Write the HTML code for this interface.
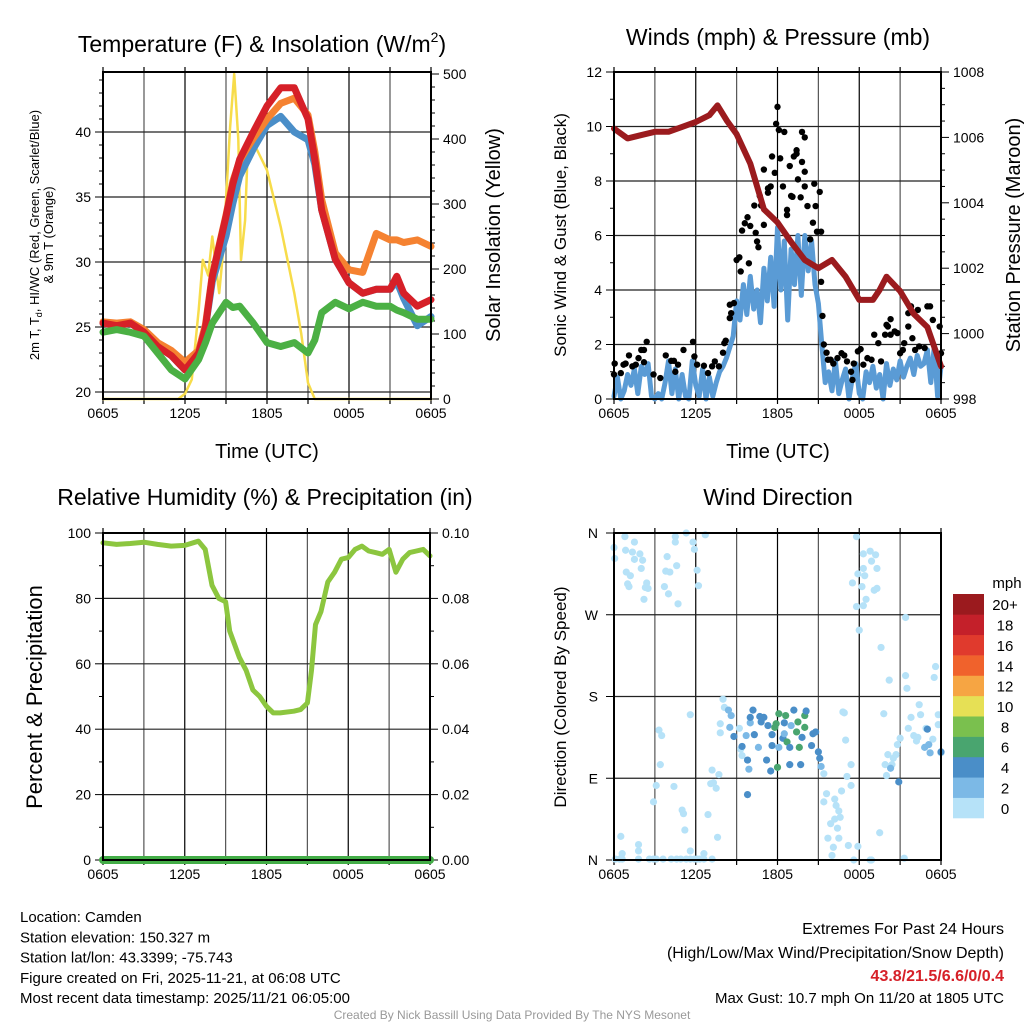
<!DOCTYPE html>
<html><head><meta charset="utf-8"><style>
body{margin:0;background:#fff;}
svg{display:block;font-family:"Liberation Sans",sans-serif;}
</style></head><body>
<svg id="c" width="1024" height="1024" viewBox="0 0 1024 1024"></svg>
<script>
// ---------- data ----------
const xTickLabels=["0605","1205","1805","0005","0605"];
const tempHours=[0,1,2,3,4,5,6,7,7.5,8,9,9.5,10,11,12,13,14,15,15.5,16,17,18,19,20,21,21.5,22,23,24];
const tempRed=[25.3,25.1,25.3,24.6,23.5,22.8,21.7,23,25,28.9,33.5,36,37.9,40,42,43.4,43.4,41,37.9,34,30.2,28.4,27.6,27.9,27.9,28.9,27.6,26.6,27.1];
const tempOrange=[25.4,25.3,25.4,24.8,23.8,23.2,22.3,23.2,25.2,29,33.6,36.2,37.8,39.5,41,42.2,42.6,41.3,38.5,34.8,30.7,29.4,29.2,32.2,31.7,31.7,31.5,31.7,31.2];
const tempBlue=[25.3,25.1,25.3,24.6,23.5,22.8,21.7,23,25,28.5,32,34.5,36.6,38.7,40.5,41.2,40,39.4,37.5,34,30.2,28.4,27.6,27.9,27.9,28.5,27.2,25.1,25.8];
const dewGreen=[24.6,24.8,24.6,24.3,23,21.7,21,22.5,23.8,25.3,26.9,26.5,26.6,25.3,23.8,23.5,23.8,23,24,26.1,26.9,26.4,26.9,26.6,26.6,26.3,26.1,25.6,25.6];
const solarHours=[0,5.5,6,6.5,7,7.3,7.7,8,8.5,8.8,9,9.3,9.6,9.9,10.1,10.4,10.6,11,12,13,14,14.5,15,15.5,24];
const solarVals=[0,0,8,30,137,214,190,250,163,230,306,418,500,400,214,275,390,395,352,265,163,101,25,0,0];

const pressHours=[0,1,2,3,4,5,6,7,7.6,8.3,9,10,11,12,13,14,15,16,17,18,19,19.5,20,21,22,23,24];
const pressVals=[1006.27,1005.97,1006.07,1006.17,1006.17,1006.32,1006.47,1006.68,1006.98,1006.5,1006.1,1005.2,1003.8,1003.4,1002.8,1002.25,1002,1002.25,1001.74,1001.03,1001.03,1001.34,1001.74,1001.3,1000.6,1000.2,999];
const windVals=[0.1,0.8,0,0.3, 0.9,0.5,1.1,0.2, 1.2,0.9,1.3,0.1, 0,0.2,0,0.6, 1.4,0.2,1.1,0, 0.9,0.1,0,1.4, 0.5,0.1,1.1,0, 0.8,0.1,0.6,1.0, 1.2,1.5,1.9,2.3, 3.6,2.9,4.2,3.1, 4.5,3.3,4.0,2.8, 4.8,3.6,5.2,3.4, 6.3,4.0,5.8,2.9, 5.5,4.2,6.0,3.8, 6.0,4.7,5.8,4.2, 3.5,2.0,0.6,1.0, 0.3,1.4,0.2,0.7, 1.1,0,0.8,1.3, 0.2,0,1.0,0.6, 1.2,0.4,0.9,0, 1.3,0.5,1.1,0.7, 1.4,0.8,1.2,1.5, 0.9,1.6,1.2,1.3, 1.8,0.6,1.9,0.1, 1.2];
const gustHours=[0,0.05,0.5,0.7,0.85,1.1,1.35,1.6,1.8,2,2.2,2.4,2.2,2.9,3.4,3.8,4.2,4.4,4.5,4.7,5.1,5.8,5.9,6.1,6.6,6.9,7.2,7.4,7.7,8,8.1,8.2,8.5,8.6,8.5,8.8,9,9.2,9.3,9.4,9.6,9.8,9.9,10,10.3,10.4,10.5,10.6,10.7,10.8,11,11,11.3,11.3,11.5,11.6,11.8,11.9,12,12.1,12.2,12.4,12.5,12.7,12.7,12.9,13,13.1,13.2,13.4,13.4,13.5,13.7,13.8,13.8,14,14,14,14.2,14.4,14.6,14.7,14.8,14.9,15.1,15.2,15.2,15.3,15.4,15.6,15.7,15.9,16.1,16.4,16.7,16.9,17.1,17.4,17.5,17.6,17.9,18.1,18.3,18.6,18.9,19.1,19.4,19.6,19.9,20,20.1,20.3,20.3,20.6,20.8,21,21.2,21.3,21.6,21.6,21.8,21.9,22.1,22.3,22.4,22.8,23,23.2,23.4,23.9,24];
const gustVals=[0.9,1.3,0.95,1.26,1.3,1.6,1.2,1.26,1.5,1.8,1.8,2.1,1.35,0.9,0.77,1.6,1.4,1.4,1.0,1.26,1.8,2.1,1.56,1.26,1.22,0.95,1.2,1.38,1.2,1.7,2.05,2.14,2.97,3.15,3.46,3.52,5.1,5.2,4.68,6.18,6.45,6.67,4.98,6.35,7.1,6.1,5.78,5.57,7.45,7.1,8.42,6.39,7.73,7.57,7.8,8.9,8.3,10.1,10.72,9.87,8.83,7.8,9.8,6.94,6.75,8.55,7.45,7.42,8.9,9.13,9.0,8.06,7.4,8.7,9.8,9.6,8.34,7.8,7.08,5.86,6.47,7.9,7.08,6.14,7.6,6.14,4.3,3.05,2.0,1.7,1.44,1.44,1.3,1.5,1.68,1.6,1.38,1.0,0.7,1.3,1.75,1.83,1.26,1.5,1.44,2.36,2.05,1.38,2.36,2.72,2.66,2.93,2.36,2.48,2.42,1.68,1.8,2.05,3.15,2.66,3.4,2.23,1.8,3.27,1.93,1.87,3.4,3.4,2.9,2.66,1.68];

const rhHours=[0,1,2,3,4,5,6,7,7.5,8,8.5,9,9.3,10,10.5,11,11.5,12,12.5,13,14,14.5,15,15.3,15.6,16,16.5,17,17.5,18,18.5,19,19.5,20,20.5,21,21.5,22,22.5,23,23.5,24];
const rhVals=[97,96.5,96.8,97.2,96.5,96,96.2,97.5,95,84,80,79,70,62,58,52,50,47,45,45,45.5,46,48,58,72,76,85,88,92,92.5,95,96,94.5,94,93.5,95,88,92,94,94.5,95,93];
const precipVals=[0,0];

// wind direction points: hour, degrees, speed (mph)
const dirHours=[0,0.05,0.8,0.85,1.5,1.35,1.5,1.9,2.1,2.0,0.9,1.2,1.0,1.1,2.4,2.3,2.5,2.2,3.9,3.8,4.1,3.7,4.0,4.6,4.7,4.5,4.5,5.3,5.8,5.9,6.1,6.2,6.7,
0.1,0.4,0.6,1.8,2.6,2.9,3.1,3.6,4.2,4.6,4.9,5.3,5.6,5.9,6.1,6.3,6.6,7.2,0.5,0.6,1.8,1.8,2.9,3.1,3.3,3.5,3.4,4.4,5.0,5.1,5.2,5.6,5.6,6.6,6.9,7.1,7.2,7.3,7.5,7.7,7.6,7.8,7.8,8.0,8.1,
8.4,8.6,8.5,9.2,9.3,9.4,9.9,10.6,10.0,9.7,9.8,8.8,9.4,10.3,10.2,10.0,10.7,10.8,11.0,11.3,11.2,11.5,11.6,11.6,12.0,11.8,11.9,12.1,12.6,12.5,12.4,12.7,12.9,12.9,13.2,13.5,13.4,13.6,13.7,13.8,14.0,14.0,14.1,14.5,14.6,14.8,15.0,15.1,15.2,15.4,9.8,12.5,12.1,13.0,
15.4,15.6,16.2,16.3,16.5,16.6,16.2,15.9,16.4,15.7,16.5,16.1,16.0,17.2,17.6,17.9,18.8,18.9,19.5,21.3,16.7,17.1,17.4,17.4,17.0,16.9,16.8,
17.8,18.3,18.8,19.2,18.9,19.3,18.3,17.9,18.4,17.5,18.2,19.1,19.3,18.5,17.8,18.3,18.0,21.4,19.6,20.2,21.5,21.4,23.6,23.5,
19.8,22.4,21.8,22.5,23.8,23.8,21.6,22.0,22.3,22.2,23.4,22.9,20.1,20.5,20.8,20.7,19.9,20.4,20.0,21.0,24.0,20.3,20.9,23.0,22.8,23.2,23.1,24.0];
const dirDegs=[344,332,356,341,350,339,331,337,330,321,317,313,304,301,305,300,299,287,334,318,317,301,293,324,282,356,350,360,350,342,319,302,358,
1,1,1,1,1,1,1,1,1,1,1,1,1,1,1,1,1,1,26,7,17,10,64,82,143,137,105,81,55,51,33,160,10,7,50,84,99,85,79,94,25,150,140,177,168,
165,159,146,145,122,115,100,124,151,137,110,136,125,138,165,157,158,152,157,148,110,98,138,126,102,146,150,161,159,151,134,130,124,105,165,152,141,124,105,135,146,159,164,126,139,141,119,112,103,95,72,139,124,148,
64,73,67,60,54,47,45,40,35,24,24,14,5,16,0,15,0,0,30,2,76,92,82,105,132,162,163,
356,337,340,336,329,321,321,315,313,305,301,297,299,287,279,280,253,267,234,198,189,203,213,201,
161,171,157,160,160,149,145,137,135,131,133,145,116,112,127,116,105,105,93,134,118,101,86,144,124,118,127,119];
const dirSpeeds=[1,1,1,1,1,1,1,1,1,1,1,1,1,1,1,1,1,1,1,1,1,1,1,1,1,1,1,1,1,1,1,1,1,
1,1,1,1,1,1,1,1,1,1,1,1,1,1,1,1,1,1,1,1,1,1,1,1,1,1,1,1,1,1,1,1,1,1,1,1,1,1,1,1,1,1,1,1,1,
3,3,3,1,1,1,3,3,3,3,5,5,5,5,5,5,5,5,5,5,5,5,5,5,7,7,7,7,7,5,5,7,5,5,5,7,7,7,5,5,7,7,5,5,5,5,5,5,3,1,5,3,3,3,
1,1,1,1,1,1,1,1,1,1,1,1,1,1,1,1,1,1,1,1,1,1,1,1,1,1,1,
1,1,1,1,1,1,1,1,1,1,1,1,1,1,1,1,1,1,1,1,1,1,1,1,
1,1,1,1,1,1,1,1,1,1,1,1,1,1,1,1,1,1,1,1,1,3,5,5,3,3,3,5];
const binColors=["#b6e2f8","#7cb9e6","#4a8ec8","#49a56f","#7ac04e","#e6e055","#f6a543","#f0622c","#e03a2d","#c4202a","#9b1a1e"];
const binLabels=["0","2","4","6","8","10","12","14","16","18","20+"];

// ---------- drawing ----------
const svg=document.getElementById('c');
const NS='http://www.w3.org/2000/svg';
function mk(tag,attrs,parent){const e=document.createElementNS(NS,tag);for(const k in attrs)e.setAttribute(k,attrs[k]);(parent||svg).appendChild(e);return e;}
function txt(s,x,y,size,anchor,parent,extra){const t=mk('text',Object.assign({x:x,y:y,'font-size':size,'text-anchor':anchor||'middle',fill:'#000'},extra||{}),parent);t.textContent=s;return t;}

function panel(name,L,R,T,B){
  const g=mk('g',{});
  
  
  const sx=h=>L+(R-L)*h/24;
  for(let h=0;h<=24;h+=3){
    const gl=mk('line',{x1:sx(h),x2:sx(h),y1:T,y2:B,stroke:(h%6===0)?'#000':'#555','stroke-width':1.2},g);
    
    
    mk('line',{x1:sx(h),x2:sx(h),y1:B,y2:B+5,stroke:'#000','stroke-width':1.2},g);
    mk('line',{x1:sx(h),x2:sx(h),y1:T,y2:T-5,stroke:'#000','stroke-width':1.2},g);
  }
  for(let i=0;i<5;i++){
    const t=txt(xTickLabels[i],sx(i*6),B+19,14,'middle',g);
    
    
  }
  return {g,sx};
}
function hline(g,L,R,y){mk('line',{x1:L,x2:R,y1:y,y2:y,stroke:'#222','stroke-width':1.2},g);}
function frame(g,L,R,T,B){mk('rect',{x:L,y:T,width:R-L,height:B-T,fill:'none',stroke:'#000','stroke-width':2},g);}
function path(g,xs,ys,sx,sy,color,w,name){
  let d='';for(let i=0;i<xs.length;i++)d+=(i?'L':'M')+sx(xs[i]).toFixed(1)+','+sy(ys[i]).toFixed(1);
  const p=mk('path',{d:d,fill:'none',stroke:color,'stroke-width':w,'stroke-linejoin':'round','stroke-linecap':'round'},g);
  
  
  return p;
}
function leftTicks(g,L,sy,vals,fmt,minors){
  vals.forEach(v=>{mk('line',{x1:L-8,x2:L,y1:sy(v),y2:sy(v),stroke:'#000','stroke-width':1},g);
    const t=txt(fmt(v),L-12,sy(v)+5,14,'end',g);});
  (minors||[]).forEach(v=>mk('line',{x1:L-4,x2:L,y1:sy(v),y2:sy(v),stroke:'#000','stroke-width':1},g));
}
function rightTicks(g,R,sy,vals,fmt,minors){
  vals.forEach(v=>{mk('line',{x1:R,x2:R+8,y1:sy(v),y2:sy(v),stroke:'#000','stroke-width':1},g);
    const t=txt(fmt(v),R+12,sy(v)+5,14,'start',g);});
  (minors||[]).forEach(v=>mk('line',{x1:R,x2:R+4,y1:sy(v),y2:sy(v),stroke:'#000','stroke-width':1},g));
}
function range(a,b,s){const r=[];for(let v=a;v<=b+1e-9;v+=s)r.push(+v.toFixed(4));return r;}
function vlabel(s,x,y,size,g,name){const t=txt(s,x,y,size,'middle',g,{transform:`rotate(-90 ${x} ${y})`});return t;}

// Panel 1: temperature
(function(){
  const L=103,R=431,T=72,B=399;
  const {g,sx}=panel('temperature-panel',L,R,T,B);
  const sy=v=>392-(v-20)*13;
  const sy2=v=>B-v*0.65;
  [20,25,30,35,40].forEach(v=>hline(g,L,R,sy(v)));
  leftTicks(g,L,sy,[20,25,30,35,40],v=>v,range(21,45,1).filter(v=>v%5));
  rightTicks(g,R,sy2,[0,100,200,300,400,500],v=>v,range(20,500,20).filter(v=>v%100));
  path(g,solarHours,solarVals,sx,sy2,'#f7dc4a',2.5,'solar-insolation-line');
  path(g,tempHours,tempBlue,sx,sy,'#4a8ec8',7,'heat-index-wind-chill-line');
  path(g,tempHours,tempOrange,sx,sy,'#f58231',7,'9m-temperature-line');
  path(g,tempHours,tempRed,sx,sy,'#d62028',7,'2m-temperature-line');
  path(g,tempHours,dewGreen,sx,sy,'#4bb044',7,'dewpoint-line');
  frame(g,L,R,T,B);
  const t=txt('Temperature (F) & Insolation (W/m',262,52,23,'middle',g);
  const ts=mk('tspan',{'font-size':14,dy:-10},t);ts.textContent='2';
  const ts2=mk('tspan',{'font-size':23,dy:10},t);ts2.textContent=')';
  const xl=txt('Time (UTC)',267,458,20,'middle',g);
  const yl=vlabel('2m T, T',39,235,13,g,'y-axis-title');
  yl.textContent='';
  const a=mk('tspan',{},yl);a.textContent='2m T, T';
  const b=mk('tspan',{'font-size':9,dy:3},yl);b.textContent='d';
  const c=mk('tspan',{dy:-3},yl);c.textContent=', HI/WC (Red, Green, Scarlet/Blue)';
  vlabel('& 9m T (Orange)',53,235,13,g,'y-axis-title-line2');
  vlabel('Solar Insolation (Yellow)',500,235,20,g,'right-axis-title');
})();

// Panel 2: winds
(function(){
  const L=614,R=941,T=72,B=399;
  const {g,sx}=panel('winds-panel',L,R,T,B);
  const sy=v=>B-v*27.25;
  const sy2=v=>B-(v-998)*32.7;
  [2,4,6,8,10].forEach(v=>hline(g,L,R,sy(v)));
  leftTicks(g,L,sy,[0,2,4,6,8,10,12],v=>v,range(1,11,2));
  rightTicks(g,R,sy2,[998,1000,1002,1004,1006,1008],v=>v,range(998.5,1007.5,0.5).filter(v=>v%2));
  const wh=windVals.map((_,i)=>i*0.25);
  path(g,wh,windVals,sx,sy,'#5a9bd5',5,'sonic-wind-line');
  gustHours.forEach((h,i)=>{const c=mk('circle',{cx:sx(h),cy:sy(gustVals[i]),r:3.2,fill:'#000'},g);
    
    });
  path(g,pressHours,pressVals,sx,sy2,'#9b1b1e',6,'pressure-line');
  frame(g,L,R,T,B);
  const t=txt('Winds (mph) & Pressure (mb)',778,45,23,'middle',g);
  const xl=txt('Time (UTC)',778,458,20,'middle',g);
  vlabel('Sonic Wind & Gust (Blue, Black)',566,235,17,g,'y-axis-title');
  vlabel('Station Pressure (Maroon)',1020,235,20,g,'right-axis-title');
})();

// Panel 3: RH
(function(){
  const L=103,R=430,T=533,B=860;
  const {g,sx}=panel('humidity-panel',L,R,T,B);
  const sy=v=>B-v*3.27;
  const sy2=v=>B-v*3270;
  [20,40,60,80,100].forEach(v=>hline(g,L,R,sy(v)));
  leftTicks(g,L,sy,[0,20,40,60,80,100],v=>v,range(10,90,20));
  rightTicks(g,R,sy2,[0,0.02,0.04,0.06,0.08,0.1],v=>v.toFixed(2),range(0.01,0.09,0.02));
  path(g,rhHours,rhVals,sx,sy,'#8cc63f',5,'relative-humidity-line');
  path(g,[0,24],precipVals,sx,sy2,'#43ad47',8,'precipitation-line');
  frame(g,L,R,T,B);
  const t=txt('Relative Humidity (%) & Precipitation (in)',265,505,23,'middle',g);
  vlabel('Percent & Precipitation',42,697,22,g,'y-axis-title');
})();

// Panel 4: wind direction
(function(){
  const L=614,R=941,T=533,B=860;
  const {g,sx}=panel('wind-direction-panel',L,R,T,B);
  const sy=v=>B-v*(B-T)/360;
  [90,180,270].forEach(v=>hline(g,L,R,sy(v)));
  const dl=['N','E','S','W','N'];
  [0,90,180,270,360].forEach((v,i)=>{mk('line',{x1:L-8,x2:L,y1:sy(v),y2:sy(v),stroke:'#000'},g);
    const t=txt(dl[i],L-16,sy(v)+5,14,'end',g);});
  dirHours.forEach((h,i)=>{const b=Math.min(10,Math.floor(dirSpeeds[i]/2));
    const c=mk('circle',{cx:sx(h),cy:sy(dirDegs[i]),r:3.6,fill:binColors[b]},g);
    
    });
  frame(g,L,R,T,B);
  const t=txt('Wind Direction',778,505,23,'middle',g);
  vlabel('Direction (Colored By Speed)',566,697,17,g,'y-axis-title');
  const cb=mk('g',{},svg);
  
  
  const h=224/11;
  for(let i=0;i<11;i++){
    const y=818-(i+1)*h;
    mk('rect',{x:953,y:y,width:31,height:h+0.3,fill:binColors[i]},cb);
    txt(binLabels[i],1005,y+h/2+6,15,'middle',cb);
  }
  txt('mph',1007,588,15,'middle',cb);
})();

// footer
const foot=mk('g',{});


["Location: Camden","Station elevation: 150.327 m","Station lat/lon: 43.3399; -75.743","Figure created on Fri, 2025-11-21, at 06:08 UTC","Most recent data timestamp: 2025/11/21 06:05:00"].forEach((s,i)=>txt(s,20,922+i*20.3,15,'start',foot));
const ext=mk('g',{});


txt('Extremes For Past 24 Hours',1004,934,16,'end',ext);
txt('(High/Low/Max Wind/Precipitation/Snow Depth)',1004,958,16,'end',ext);
txt('43.8/21.5/6.6/0/0.4',1004,981,16,'end',ext,{fill:'#d62028','font-weight':'bold'});
txt('Max Gust: 10.7 mph On 11/20 at 1805 UTC',1004,1003,15,'end',ext);
const cr=txt('Created By Nick Bassill Using Data Provided By The NYS Mesonet',512,1019,12,'middle',svg,{fill:'#999'});


</script>
</body></html>
